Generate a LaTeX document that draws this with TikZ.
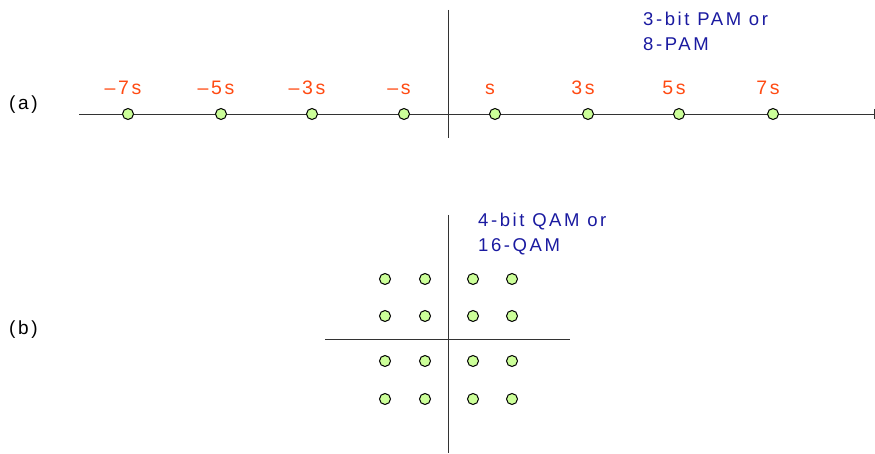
\documentclass[tikz,border=0pt]{standalone}
\usepackage{fontspec}
\setmainfont{Liberation Sans}
\newfontfamily\spacedfont[LetterSpace=14]{Liberation Sans}
\usepackage{tikz}
\usetikzlibrary{positioning}
\definecolor{axisgray}{HTML}{333333}
\definecolor{dotgreen}{HTML}{CCFF99}
\definecolor{symred}{HTML}{FF4A12}
\definecolor{capblue}{HTML}{1A1AA0}

\tikzset{
  symdot/.style={circle, draw=black, fill=dotgreen, line width=1pt, inner sep=0pt, minimum size=11pt},
  symlab/.style={text=symred, font=\spacedfont\fontsize{19.5}{21}\selectfont, anchor=base, inner sep=0pt},
  captxt/.style={text=capblue, font=\spacedfont\fontsize{18.5}{25}\selectfont, align=left, anchor=base west, inner sep=0pt},
  partlab/.style={font=\spacedfont\fontsize{19}{21}\selectfont, anchor=base west, inner sep=0pt},
  axis/.style={draw=axisgray, line width=0.9pt}
}

\begin{document}
\begin{tikzpicture}[x=1pt, y=-1pt]
  \useasboundingbox (0,0) rectangle (875,454);
  % (a) 8-PAM
  \coordinate (aL) at (79,114);
  \coordinate (aR) at (874,114);
  \coordinate (aT) at (448,10);
  \coordinate (aB) at (448,138);
  \draw[axis] (aL) -- (aR);
  \draw[axis] (aT) -- (aB);
  \draw[axis] ([yshift=-5]aR) -- ([yshift=5]aR);
  \node[partlab] (parta) at (9,110) {(a)};
  \foreach \x/\lab [count=\i] in {128/{–7s},221/{–5s},312/{–3s},404/{–s},495/{s},588/{3s},679/{5s},773/{7s}}{
    \node[symdot] (p\i) at (\x,114) {};
    \node[symlab] (pl\i) at (\x-5,95) {\lab};
  }
  \node[captxt] (pamcap) at (643,51) {3-bit PAM or\\8-PAM};

  % (b) 16-QAM
  \coordinate (bL) at (325,339);
  \coordinate (bR) at (570,339);
  \coordinate (bT) at (448,215);
  \coordinate (bB) at (448,453);
  \draw[axis] (bL) -- (bR);
  \draw[axis] (bT) -- (bB);
  \node[partlab] (partb) at (9,334) {(b)};
  \foreach \x [count=\i] in {385,425,473,512}{
    \foreach \y [count=\j] in {279,316,361,399}{
      \node[symdot] (q\i\j) at (\x,\y) {};
    }
  }
  \node[captxt] (qamcap) at (478,252) {4-bit QAM or\\16-QAM};
\end{tikzpicture}
\end{document}
